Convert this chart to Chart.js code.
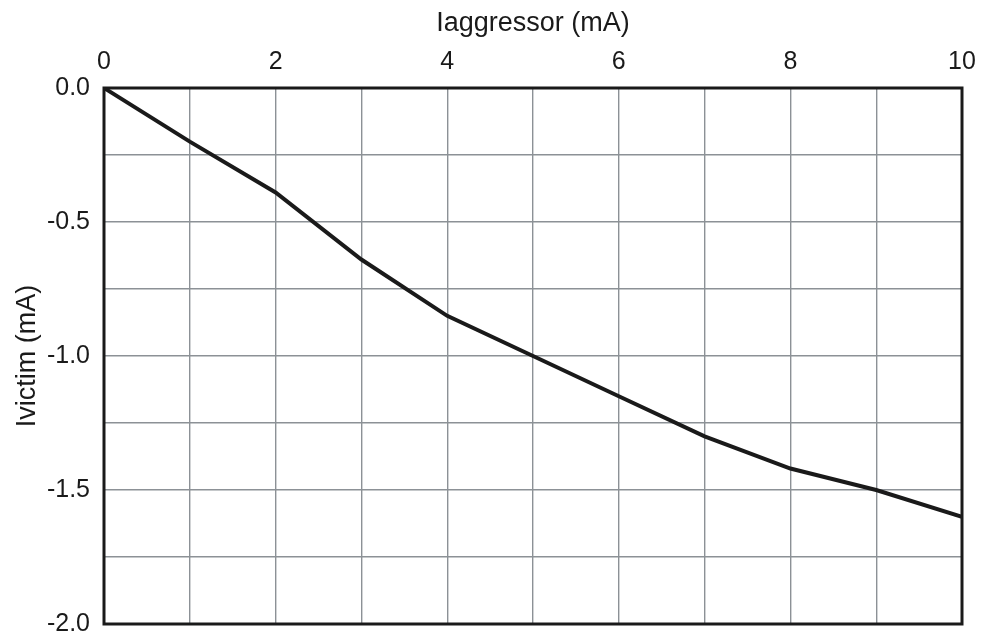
<!DOCTYPE html>
<html>
<head>
<meta charset="utf-8">
<script src="https://cdn.jsdelivr.net/npm/chart.js@4"></script>
<style>
  html, body { margin: 0; padding: 0; background: #ffffff; }
  #wrap { width: 984px; height: 636px; }
</style>
</head>
<body>
<div id="wrap"><canvas id="c" width="984" height="636"></canvas></div>
<script>
// Aggressor current sweep (mA) and resulting victim current (mA)
const aggressorCurrent = [0, 1, 2, 3, 4, 5, 6, 7, 8, 9, 10];
const victimCurrent = [0, -0.2, -0.39, -0.64, -0.85, -1.0, -1.15, -1.3, -1.42, -1.5, -1.6];

// Labelled ticks and axis titles
const xLabelTicks = [0, 2, 4, 6, 8, 10];
const yLabelTicks = [0, -0.5, -1.0, -1.5, -2.0];
const xTitle = 'Iaggressor (mA)';
const yTitle = 'Ivictim (mA)';

const FAMILY = 'Liberation Sans, Arial, sans-serif';
const TICK_FONT = { family: FAMILY, size: 25 };
const TITLE_FONT = { family: FAMILY, size: 27 };
const INK = '#1a1a1a';
const GRID = '#8c9196';

const points = aggressorCurrent.map((x, i) => ({ x, y: victimCurrent[i] }));

// Heavy frame around the plotting area
const framePlugin = {
  id: 'frame',
  afterDatasetsDraw(chart) {
    const { ctx, chartArea: a } = chart;
    ctx.save();
    ctx.strokeStyle = INK;
    ctx.lineWidth = 3;
    ctx.strokeRect(a.left, a.top, a.right - a.left, a.bottom - a.top);
    ctx.restore();
  }
};

const near = (v, list) => list.some(t => Math.abs(v - t) < 1e-9);

// Fixed axis box sizes; outer margins come from layout.padding only
function fixBox(size, key) {
  return function (scale) {
    scale[key] = size;
    scale.paddingLeft = 0;
    scale.paddingRight = 0;
    scale.paddingTop = 0;
    scale.paddingBottom = 0;
  };
}

new Chart(document.getElementById('c'), {
  type: 'line',
  data: {
    datasets: [{
      data: points,
      borderColor: INK,
      borderWidth: 4,
      pointRadius: 0,
      tension: 0,
      fill: false
    }]
  },
  options: {
    responsive: false,
    animation: false,
    events: [],
    layout: { padding: { left: 0, right: 22, top: 0, bottom: 12 } },
    plugins: { legend: { display: false }, tooltip: { enabled: false } },
    scales: {
      x: {
        type: 'linear',
        position: 'top',
        min: 0,
        max: 10,
        afterFit: fixBox(88, 'height'),
        border: { display: false },
        grid: { color: GRID, lineWidth: 1.4, drawTicks: false },
        ticks: {
          stepSize: 1,
          autoSkip: false,
          maxRotation: 0,
          padding: 11,
          color: INK,
          font: TICK_FONT,
          callback: v => near(v, xLabelTicks) ? String(v) : ''
        },
        title: {
          display: true,
          text: xTitle,
          color: INK,
          font: TITLE_FONT,
          padding: { top: 7, bottom: 0 }
        }
      },
      y: {
        type: 'linear',
        position: 'left',
        min: -2,
        max: 0,
        afterFit: fixBox(104, 'width'),
        border: { display: false },
        grid: { color: GRID, lineWidth: 1.4, drawTicks: false },
        ticks: {
          stepSize: 0.25,
          autoSkip: false,
          padding: 14,
          color: INK,
          font: TICK_FONT,
          callback: v => near(v, yLabelTicks) ? v.toFixed(1) : ''
        },
        title: {
          display: true,
          text: yTitle,
          color: INK,
          font: TITLE_FONT,
          padding: { top: 11, bottom: 0 }
        }
      }
    }
  },
  plugins: [framePlugin]
});
</script>
</body>
</html>
